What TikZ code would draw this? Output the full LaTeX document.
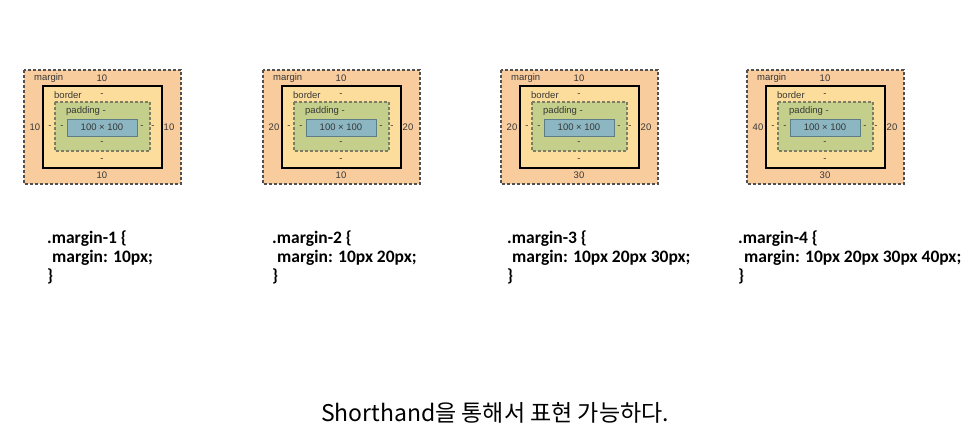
\documentclass[tikz,border=0pt]{standalone}
\usepackage{fontspec}
\setmainfont{Liberation Sans}
\newfontfamily\codefont{Carlito}
\newfontfamily\krfont{Noto Sans CJK KR}
\definecolor{marginfill}{RGB}{249,204,157}
\definecolor{borderfill}{RGB}{253,221,155}
\definecolor{paddingfill}{RGB}{195,207,138}
\definecolor{contentfill}{RGB}{140,182,193}
\definecolor{contentline}{RGB}{95,125,135}
\definecolor{dashgray}{RGB}{80,80,80}
\definecolor{paddashed}{RGB}{125,125,100}
\definecolor{labelgray}{RGB}{55,55,55}
\newcommand\boxmodeldiag[5]{%
  \begin{scope}[xshift=#1pt]
    \draw[marginbox] (0,70) rectangle (157,184);
    \draw[borderbox] (19,86) rectangle (138,168);
    \draw[paddingbox] (31,102) rectangle (126,151);
    \draw[contentbox] (43,119) rectangle (113,136);
    \node[lbl, anchor=west] (#2ml) at (10,78) {margin};
    \node[lbl] (#2mt) at (78,78) {10};
    \node[lbl, anchor=west] (#2bl) at (30,95) {border};
    \node[lbl] (#2bt) at (78,95) {-};
    \node[lbl, anchor=west] (#2pl) at (42,111) {padding -};
    \node[lbl] (#2c) at (78,127.5) {100 × 100};
    \node[lbl] (#2mlv) at (11,127.5) {#3};
    \node[lbl] (#2blv) at (26,127.5) {-};
    \node[lbl] (#2plv) at (38,127.5) {-};
    \node[lbl] (#2prv) at (118,127.5) {-};
    \node[lbl] (#2brv) at (129,127.5) {-};
    \node[lbl] (#2mrv) at (145,127.5) {#4};
    \node[lbl] (#2pb) at (78,143) {-};
    \node[lbl] (#2bb) at (78,160) {-};
    \node[lbl] (#2mb) at (78,175.5) {#5};
  \end{scope}}
\begin{document}
\begin{tikzpicture}[x=1pt,y=-1pt,
  marginbox/.style={fill=marginfill, draw=dashgray, line width=1.1pt, dash pattern=on 3pt off 2pt},
  borderbox/.style={fill=borderfill, draw=black, line width=1.1pt},
  paddingbox/.style={fill=paddingfill, draw=paddashed, line width=1.1pt, dash pattern=on 3pt off 2pt},
  contentbox/.style={fill=contentfill, draw=contentline, line width=0.8pt},
  lbl/.style={font=\fontsize{9.5}{11}\selectfont, text=labelgray, inner sep=0pt},
  code/.style={font=\codefont\bfseries\fontsize{17.5}{20}\selectfont, anchor=base west, inner sep=0pt, text=black}]
\useasboundingbox[fill=white] (0,0) rectangle (973,446);
\boxmodeldiag{24}{a}{10}{10}{10}
\boxmodeldiag{263}{b}{20}{20}{10}
\boxmodeldiag{501}{c}{20}{20}{30}
\boxmodeldiag{747}{d}{40}{20}{30}
\node[code] (a1) at (47,243) {.margin-1 \{};
\node[code] (a2) at (52,262) {margin: 10px;};
\node[code] (a3) at (47,281) {\}};
\node[code] (b1) at (272,243) {.margin-2 \{};
\node[code] (b2) at (277,262) {margin: 10px 20px;};
\node[code] (b3) at (272,281) {\}};
\node[code] (c1) at (507,243) {.margin-3 \{};
\node[code] (c2) at (512,262) {margin: 10px 20px 30px;};
\node[code] (c3) at (507,281) {\}};
\node[code] (d1) at (738,243) {.margin-4 \{};
\node[code] (d2) at (744,262) {margin: 10px 20px 30px 40px;};
\node[code] (d3) at (738,281) {\}};
\node[font=\krfont\fontsize{23}{27}\selectfont, anchor=base, inner sep=0pt] (title) at (495,421) {Shorthand을 통해서 표현 가능하다.};
\end{tikzpicture}
\end{document}
